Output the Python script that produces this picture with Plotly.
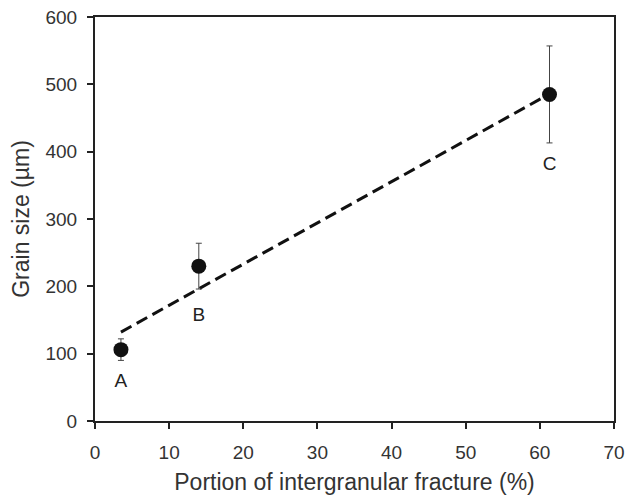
import plotly.graph_objects as go

# Data
samples = ["A", "B", "C"]
fracture_pct = [3.5, 14.0, 61.3]
grain_size = [106, 230, 485]
grain_err = [16, 34, 72]
fit_x = [3.5, 61.0]
fit_y = [132, 484]
label_y = [58, 156, 380]

x_ticks = [0, 10, 20, 30, 40, 50, 60, 70]
y_ticks = [0, 100, 200, 300, 400, 500, 600]

font = "Liberation Sans, Arial, sans-serif"

fig = go.Figure()
fig.add_trace(go.Scatter(
    x=fit_x, y=fit_y, mode="lines",
    line=dict(color="#111111", width=3, dash="12px,6px"),
    showlegend=False, hoverinfo="skip"))
fig.add_trace(go.Scatter(
    x=fracture_pct, y=grain_size, mode="markers",
    marker=dict(color="#111111", size=15),
    error_y=dict(type="data", array=grain_err, visible=True,
                 color="#444444", thickness=1, width=3),
    showlegend=False))
fig.add_trace(go.Scatter(
    x=fracture_pct, y=label_y, mode="text", text=samples,
    textfont=dict(family=font, size=19, color="#222222"),
    showlegend=False, hoverinfo="skip"))

axis_common = dict(
    showgrid=False, zeroline=False, showline=True, linecolor="#222222",
    linewidth=2, mirror=True, ticks="outside", ticklen=6, tickwidth=1.5,
    tickcolor="#222222", automargin=False,
    tickfont=dict(family=font, size=19, color="#333333"))

fig.update_xaxes(range=[0, 70], tickvals=x_ticks, ticklabelstandoff=7,
                 title=dict(text="Portion of intergranular fracture (%)",
                            font=dict(family=font, size=23, color="#333333"),
                            standoff=12),
                 **axis_common)
fig.update_yaxes(range=[0, 600], tickvals=y_ticks, ticklabelstandoff=6,
                 title=dict(text="Grain size (\u00b5m)",
                            font=dict(family=font, size=23, color="#333333"),
                            standoff=9),
                 **axis_common)

fig.update_layout(
    width=626, height=495,
    margin=dict(l=95, r=12, t=17, b=74),
    plot_bgcolor="white", paper_bgcolor="white",
)

fig.write_html("out.html",
               config={"displayModeBar": False},
               post_script="document.body.style.margin='0';"
                           "document.body.style.padding='0';")
